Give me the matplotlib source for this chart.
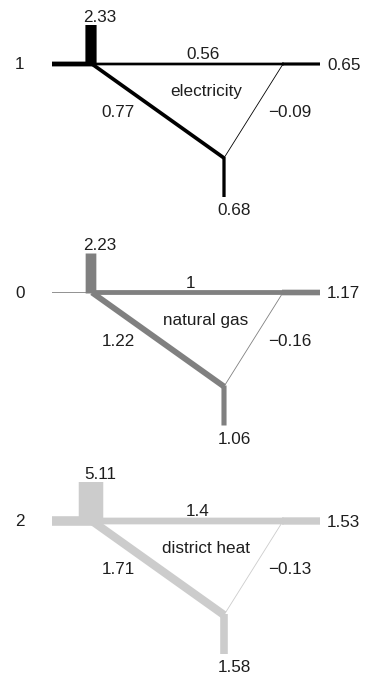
import matplotlib
matplotlib.use("Agg")
import matplotlib.pyplot as plt

plt.rcParams['font.family'] = ['Liberation Sans', 'DejaVu Sans']

# one small network per carrier
names = ['electricity', 'natural gas', 'district heat']
colors = ['#000000', '#808080', '#cccccc']
inflow = [1, 0, 2]          # left stub
supply = [2.33, 2.23, 5.11]  # upward bar at left node
top_edge = [0.56, 1, 1.4]    # left -> right
left_diag = [0.77, 1.22, 1.71]  # left -> bottom
right_diag = [-0.09, -0.16, -0.13]  # right -> bottom
right_out = [0.65, 1.17, 1.53]
bottom_out = [0.68, 1.06, 1.58]

PX_PER_UNIT = 4.8
TXT = '#1e1e1e'
FS = 12.3


def lw(v):
    # width in points, proportional to the flow
    return max(abs(v) * PX_PER_UNIT * 0.72, 0.6)


def fmt(v):
    return f"{v:g}".replace('-', '\u2212')


fig = plt.figure(figsize=(3.65, 6.77), dpi=100)
ax = fig.add_axes([0, 0, 1, 1])
ax.set_xlim(0, 365)
ax.set_ylim(677, 0)
ax.axis('off')

for i in range(len(names)):
    y0 = 64 + 228.5 * i
    c = colors[i]
    L = (92, y0)
    R = (283, y0)
    B = (224, y0 + 94)
    kw = dict(color=c, solid_capstyle='butt', snap=False)

    # edges of the triangle
    ax.plot([L[0], R[0] + 1], [L[1], R[1]], lw=lw(top_edge[i]), **kw)
    ax.plot([L[0], B[0]], [L[1], B[1]], lw=lw(left_diag[i]), **kw)
    ax.plot([R[0], B[0]], [R[1], B[1]], lw=lw(right_diag[i]), **kw)

    # stubs
    ax.plot([52, L[0] + 1], [y0, y0], lw=lw(inflow[i]), **kw)
    ax.plot([R[0] - 1, 320], [y0, y0], lw=lw(right_out[i]), **kw)
    ax.plot([B[0], B[0]], [B[1] - 1, y0 + 133], lw=lw(bottom_out[i]), **kw)
    ax.plot([91, 91], [y0 + 1, y0 - 39], lw=lw(supply[i]), **kw)

    # labels
    tk = dict(color=TXT, fontsize=FS, va='baseline')
    ax.text(20, y0 + 5, fmt(inflow[i]), ha='center', **tk)
    ax.text(100, y0 - 42, fmt(supply[i]), ha='center', **tk)
    ax.text(186, y0 - 5, fmt(top_edge[i]), ha='left', **tk)
    ax.text(327, y0 + 6, fmt(right_out[i]), ha='left', **tk)
    ax.text(206, y0 + 32, names[i], ha='center', **tk)
    ax.text(118, y0 + 53, fmt(left_diag[i]), ha='center', **tk)
    ax.text(290, y0 + 53, fmt(right_diag[i]), ha='center', **tk)
    ax.text(234, y0 + 151, fmt(bottom_out[i]), ha='center', **tk)

fig.savefig('out.png', dpi=100)
